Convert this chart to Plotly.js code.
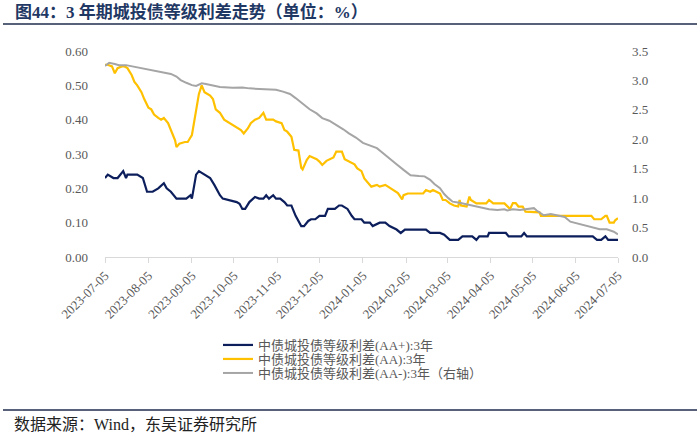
<!DOCTYPE html>
<html>
<head>
<meta charset="utf-8">
<script src="https://cdn.plot.ly/plotly-3.0.1.min.js"></script>
<style>
  html, body { margin: 0; padding: 0; background: #fff; }
  #chart { width: 700px; height: 434px; }
</style>
</head>
<body>
<div id="chart"></div>
<script>
// ===== data =====
const aaPlusDates = [
  "2023-07-05","2023-07-07","2023-07-11","2023-07-14","2023-07-18","2023-07-20","2023-07-21","2023-07-28",
  "2023-08-01","2023-08-04","2023-08-08","2023-08-12","2023-08-16","2023-08-18","2023-08-21","2023-08-25",
  "2023-09-01","2023-09-04","2023-09-05","2023-09-08","2023-09-10","2023-09-14","2023-09-18","2023-09-21",
  "2023-09-25","2023-09-27","2023-10-07","2023-10-09","2023-10-11","2023-10-13","2023-10-16","2023-10-20",
  "2023-10-23","2023-10-26","2023-10-28","2023-10-30","2023-11-02","2023-11-04","2023-11-07","2023-11-10",
  "2023-11-12","2023-11-15","2023-11-18","2023-11-22","2023-11-24","2023-11-27","2023-11-29","2023-12-02",
  "2023-12-05","2023-12-09","2023-12-11","2023-12-16","2023-12-19","2023-12-21","2023-12-25","2023-12-28",
  "2023-12-30","2024-01-04","2024-01-06","2024-01-10","2024-01-12","2024-01-17","2024-01-21","2024-01-24",
  "2024-01-29","2024-02-01","2024-02-04","2024-02-19","2024-02-22","2024-02-29","2024-03-03","2024-03-07",
  "2024-03-13","2024-03-16","2024-03-23","2024-03-26","2024-03-28","2024-04-03","2024-04-04","2024-04-16",
  "2024-04-18","2024-04-27","2024-04-29","2024-05-01","2024-06-17","2024-06-20","2024-06-23","2024-06-26",
  "2024-06-28","2024-07-05"
];
const aaPlusValues = [
  0.23,0.24,0.23,0.23,0.25,0.23,0.24,0.24,
  0.23,0.19,0.19,0.20,0.215,0.20,0.19,0.17,
  0.17,0.18,0.17,0.24,0.25,0.24,0.23,0.21,
  0.18,0.17,0.16,0.155,0.14,0.14,0.16,0.175,
  0.17,0.17,0.18,0.17,0.18,0.17,0.17,0.16,
  0.15,0.15,0.12,0.09,0.09,0.105,0.11,0.11,
  0.12,0.12,0.14,0.14,0.15,0.15,0.14,0.12,
  0.11,0.11,0.10,0.10,0.09,0.10,0.10,0.09,
  0.08,0.07,0.08,0.08,0.07,0.07,0.065,0.05,
  0.05,0.06,0.06,0.05,0.06,0.06,0.07,0.07,
  0.06,0.06,0.07,0.06,0.06,0.05,0.05,0.06,
  0.05,0.05
];

const aaDates = [
  "2023-07-05","2023-07-07","2023-07-10","2023-07-12","2023-07-14","2023-07-17","2023-07-19","2023-07-21",
  "2023-07-24","2023-07-26","2023-07-28","2023-07-31","2023-08-02","2023-08-05","2023-08-07","2023-08-09",
  "2023-08-12","2023-08-14","2023-08-16","2023-08-19","2023-08-21","2023-08-24","2023-08-25","2023-08-27",
  "2023-08-31","2023-09-02","2023-09-05","2023-09-06","2023-09-08","2023-09-10","2023-09-12","2023-09-14",
  "2023-09-18","2023-09-20","2023-09-22","2023-09-25","2023-09-28","2023-10-02","2023-10-07","2023-10-10",
  "2023-10-12","2023-10-15","2023-10-17","2023-10-20","2023-10-23","2023-10-26","2023-10-28","2023-10-31",
  "2023-11-02","2023-11-04","2023-11-08","2023-11-10","2023-11-12","2023-11-15","2023-11-17","2023-11-20",
  "2023-11-22","2023-11-23","2023-11-26","2023-11-28","2023-11-30","2023-12-03","2023-12-05","2023-12-07",
  "2023-12-10","2023-12-12","2023-12-15","2023-12-17","2023-12-21","2023-12-23","2023-12-27","2023-12-30",
  "2024-01-01","2024-01-04","2024-01-06","2024-01-09","2024-01-11","2024-01-15","2024-01-17","2024-01-21",
  "2024-01-23","2024-01-26","2024-01-30","2024-02-02","2024-02-03","2024-02-06","2024-02-17","2024-02-19",
  "2024-02-22","2024-02-24","2024-02-26","2024-02-29","2024-03-02","2024-03-04","2024-03-07","2024-03-10",
  "2024-03-13","2024-03-14","2024-03-15","2024-03-19","2024-03-21","2024-03-22","2024-03-26","2024-04-02",
  "2024-04-04","2024-04-07","2024-04-15","2024-04-17","2024-04-19","2024-04-21","2024-04-23","2024-04-25",
  "2024-04-28","2024-04-30","2024-05-10","2024-05-11","2024-06-16","2024-06-18","2024-06-23","2024-06-26",
  "2024-06-27","2024-06-29","2024-07-02","2024-07-03","2024-07-05"
];
const aaValues = [
  0.56,0.56,0.555,0.535,0.55,0.555,0.555,0.55,
  0.53,0.51,0.50,0.48,0.46,0.435,0.43,0.415,
  0.405,0.40,0.405,0.39,0.37,0.34,0.32,0.33,
  0.335,0.335,0.355,0.38,0.43,0.475,0.50,0.48,
  0.47,0.46,0.43,0.42,0.40,0.39,0.38,0.37,
  0.36,0.375,0.39,0.40,0.405,0.42,0.40,0.40,
  0.40,0.395,0.39,0.37,0.365,0.35,0.312,0.31,
  0.26,0.255,0.283,0.294,0.29,0.285,0.278,0.268,
  0.28,0.285,0.29,0.307,0.307,0.285,0.275,0.27,
  0.258,0.25,0.229,0.215,0.205,0.21,0.205,0.21,
  0.205,0.195,0.186,0.168,0.18,0.185,0.185,0.195,
  0.19,0.195,0.19,0.185,0.166,0.166,0.156,0.15,
  0.147,0.166,0.15,0.147,0.176,0.166,0.156,0.156,
  0.166,0.156,0.156,0.147,0.14,0.157,0.157,0.147,
  0.147,0.132,0.13,0.12,0.12,0.11,0.11,0.12,
  0.12,0.10,0.10,0.107,0.113
];

const aaMinusDates = [
  "2023-07-05","2023-07-08","2023-07-12","2023-07-15","2023-07-20","2023-07-25","2023-08-01","2023-08-08",
  "2023-08-15","2023-08-21","2023-08-25","2023-08-28","2023-09-01","2023-09-05","2023-09-08","2023-09-12",
  "2023-09-15","2023-09-20","2023-09-25","2023-10-04","2023-10-11","2023-10-16","2023-10-28","2023-11-04",
  "2023-11-09","2023-11-14","2023-11-18","2023-11-23","2023-11-28","2023-12-03","2023-12-07","2023-12-12",
  "2023-12-17","2023-12-22","2023-12-26","2023-12-31","2024-01-05","2024-01-10","2024-01-15","2024-01-19",
  "2024-01-24","2024-01-29","2024-02-03","2024-02-08","2024-02-14","2024-02-18","2024-02-22","2024-02-25",
  "2024-02-29","2024-03-03","2024-03-06","2024-03-09","2024-03-14","2024-03-21","2024-03-28","2024-04-04",
  "2024-04-10","2024-04-15","2024-04-17","2024-04-21","2024-04-26","2024-05-01","2024-05-06","2024-05-08",
  "2024-05-13","2024-05-18","2024-05-23","2024-05-28","2024-06-01","2024-06-08","2024-06-15","2024-06-22",
  "2024-06-27","2024-07-02","2024-07-05"
];
const aaMinusValues = [
  3.245,3.30,3.28,3.26,3.26,3.235,3.205,3.165,
  3.13,3.11,3.065,3.005,2.96,2.92,2.905,2.95,
  2.94,2.92,2.89,2.875,2.88,2.865,2.855,2.84,
  2.81,2.77,2.70,2.60,2.51,2.44,2.36,2.315,
  2.245,2.17,2.10,2.03,1.94,1.90,1.85,1.77,
  1.68,1.575,1.48,1.39,1.375,1.37,1.31,1.24,
  1.17,1.07,1.00,0.94,0.92,0.88,0.845,0.81,
  0.80,0.81,0.79,0.81,0.80,0.81,0.83,0.79,
  0.71,0.73,0.70,0.68,0.60,0.56,0.515,0.47,
  0.47,0.43,0.385
];

const seriesNames = [
  "中债城投债等级利差(AA+):3年",
  "中债城投债等级利差(AA):3年",
  "中债城投债等级利差(AA-):3年（右轴）"
];
const leftTicks = [0, 0.1, 0.2, 0.3, 0.4, 0.5, 0.6];
const rightTicks = [0, 0.5, 1.0, 1.5, 2.0, 2.5, 3.0, 3.5];

const TITLE_TEXT = "图44：3 年期城投债等级利差走势（单位：%）";
const SOURCE_TEXT = "数据来源：Wind，东吴证券研究所";

// ===== render =====
const SERIF_CJK = "Liberation Serif, Noto Sans CJK SC, serif";
const TICK_FONT = { family: "Liberation Serif, Times New Roman, serif", size: 13, color: "#595959" };

// пиксели окна -> доли "paper" (область графика 105..618 x 51..257)
function paperX(px) { return (px - 105) / 513; }
function paperY(py) { return (257 - py) / 206; }

// отдельная легенда на каждую серию, чтобы строки шли плотно, как в оригинале
function legendAt(py) {
  return {
    x: paperX(218), y: paperY(py), xanchor: "left", yanchor: "middle",
    font: { family: SERIF_CJK, size: 13, color: "#595959" },
    bgcolor: "rgba(0,0,0,0)", borderwidth: 0
  };
}

const traces = [
  { x: aaPlusDates, y: aaPlusValues, name: seriesNames[0], type: "scatter", mode: "lines",
    line: { color: "#0c1f5c", width: 2.2 }, yaxis: "y", legend: "legend" },
  { x: aaDates, y: aaValues, name: seriesNames[1], type: "scatter", mode: "lines",
    line: { color: "#ffc000", width: 2.2 }, yaxis: "y", legend: "legend2" },
  { x: aaMinusDates, y: aaMinusValues, name: seriesNames[2], type: "scatter", mode: "lines",
    line: { color: "#a5a5a5", width: 2 }, yaxis: "y2", legend: "legend3" }
];

const layout = {
  width: 700, height: 434,
  margin: { l: 105, r: 82, t: 51, b: 177 },
  paper_bgcolor: "#fff", plot_bgcolor: "#fff",
  showlegend: true,
  legend: legendAt(345),
  legend2: legendAt(359),
  legend3: legendAt(373),
  xaxis: {
    type: "date",
    range: ["2023-07-05", "2024-07-05"],
    tick0: "2023-07-05", dtick: "M1", tickformat: "%Y-%m-%d",
    tickangle: -45, tickfont: TICK_FONT,
    showgrid: false, zeroline: false,
    showline: true, linecolor: "#d9d9d9", linewidth: 1,
    ticks: "outside", ticklen: 5, tickcolor: "#d9d9d9"
  },
  yaxis: {
    range: [0, 0.6], tickvals: leftTicks, tickformat: ".2f",
    tickfont: TICK_FONT, showgrid: false, zeroline: false, showline: false,
    ticks: "", ticklabelstandoff: 16
  },
  yaxis2: {
    range: [0, 3.5], tickvals: rightTicks, tickformat: ".1f",
    overlaying: "y", side: "right",
    tickfont: TICK_FONT, showgrid: false, zeroline: false, showline: false,
    ticks: "", ticklabelstandoff: 13
  },
  shapes: [
    { type: "line", xref: "paper", yref: "paper", x0: paperX(3), x1: paperX(697), y0: paperY(24), y1: paperY(24),
      line: { color: "#1f2d4d", width: 1.5 } },
    { type: "line", xref: "paper", yref: "paper", x0: paperX(3), x1: paperX(697), y0: paperY(410), y1: paperY(410),
      line: { color: "#1f2d4d", width: 1.5 } }
  ],
  annotations: [
    { text: "<b>" + TITLE_TEXT + "</b>", xref: "paper", yref: "paper", x: paperX(13), y: paperY(12),
      xanchor: "left", yanchor: "middle", showarrow: false,
      font: { family: SERIF_CJK, size: 17, color: "#1f3864" } },
    { text: SOURCE_TEXT, xref: "paper", yref: "paper", x: paperX(12), y: paperY(424),
      xanchor: "left", yanchor: "middle", showarrow: false,
      font: { family: SERIF_CJK, size: 16, color: "#222" } }
  ]
};

Plotly.newPlot("chart", traces, layout, { displayModeBar: false, responsive: false });
</script>
</body>
</html>
